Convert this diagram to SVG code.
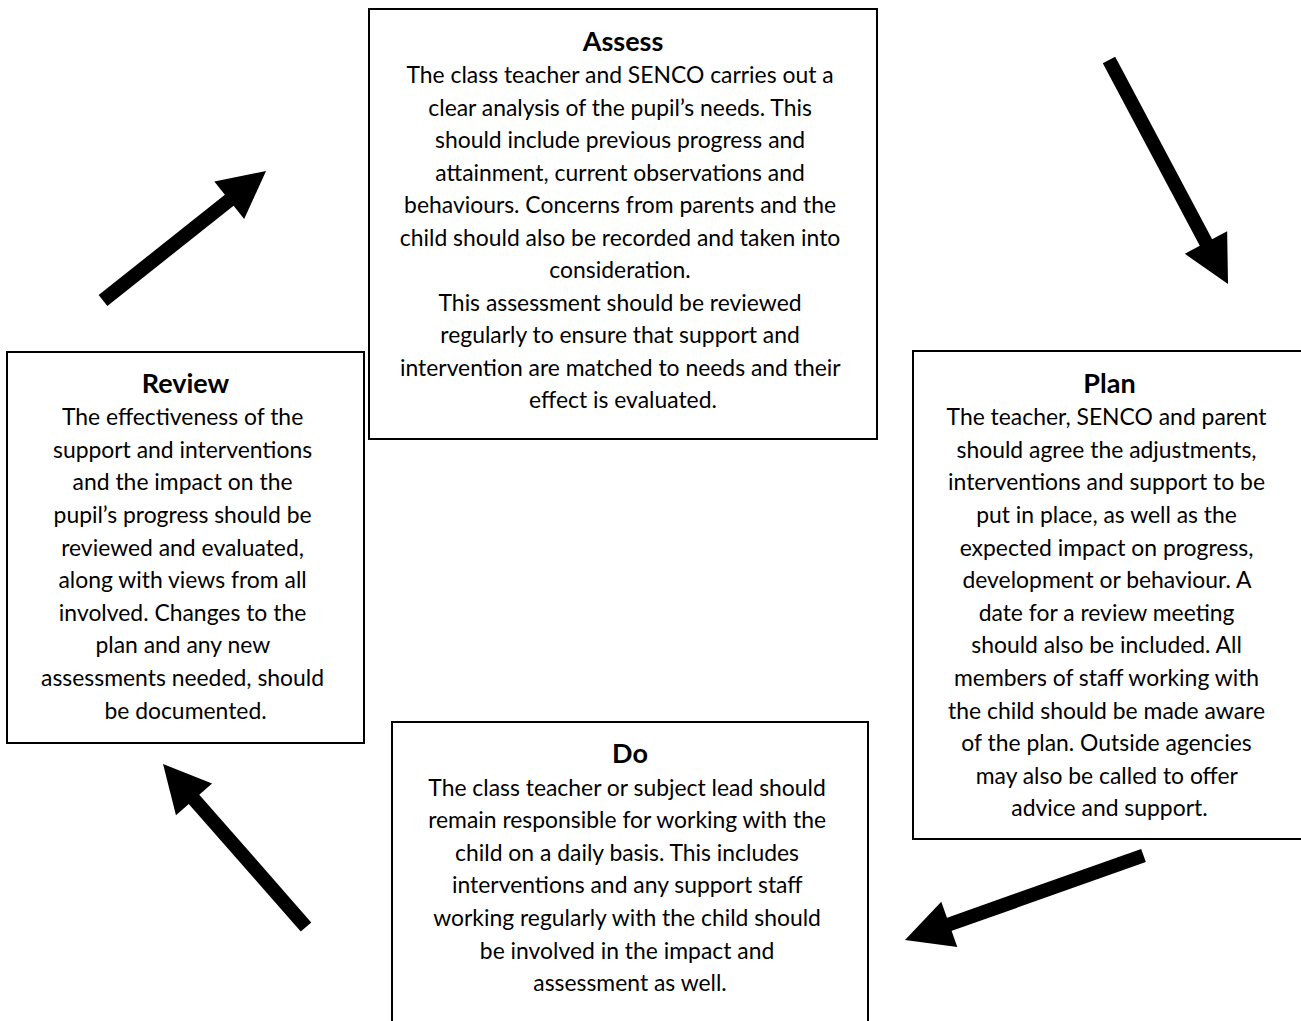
<svg xmlns="http://www.w3.org/2000/svg" width="1301" height="1021" viewBox="0 0 1301 1021">
<style>
.box{fill:#fff;stroke:#000;stroke-width:2}
.t{font-family:Lato,"Liberation Sans",sans-serif;font-size:22.9px;fill:#000;text-anchor:middle}
.h{font-weight:bold;font-size:27px}
.arr{stroke:#000;stroke-width:14;fill:none}
</style>
<defs>
<marker id="head" markerUnits="userSpaceOnUse" markerWidth="60" markerHeight="60" refX="2" refY="0" orient="auto" overflow="visible">
<path d="M0,-24 L47,0 L0,24 Z" fill="#000"/>
</marker>
</defs>
<rect width="1301" height="1021" fill="#fff"/>
<g id="connectors">
<line class="arr" x1="1109" y1="60" x2="1206.9" y2="244.3" marker-end="url(#head)"/>
<line class="arr" x1="1143.5" y1="855.5" x2="947.4" y2="925" marker-end="url(#head)"/>
<line class="arr" x1="306" y1="927" x2="192.7" y2="797.8" marker-end="url(#head)"/>
<line class="arr" x1="103" y1="300.5" x2="230.8" y2="199" marker-end="url(#head)"/>
</g>
<g id="assess">
<rect class="box" x="369" y="9" width="508" height="430"/>
<text class="t h" x="623" y="50.8">Assess</text>
<text class="t" x="623">
<tspan x="623" y="83.3">The class teacher and SENCO carries out a</tspan>
<tspan x="623" y="115.8">clear analysis of the pupil’s needs. This</tspan>
<tspan x="623" y="148.3">should include previous progress and</tspan>
<tspan x="623" y="180.8">attainment, current observations and</tspan>
<tspan x="623" y="213.3">behaviours. Concerns from parents and the</tspan>
<tspan x="623" y="245.8">child should also be recorded and taken into</tspan>
<tspan x="623" y="278.3">consideration.</tspan>
<tspan x="623" y="310.8">This assessment should be reviewed</tspan>
<tspan x="623" y="343.3">regularly to ensure that support and</tspan>
<tspan x="623" y="375.8">intervention are matched to needs and their</tspan>
<tspan x="623" y="408.3">effect is evaluated.</tspan>
</text>
</g>
<g id="review">
<rect class="box" x="7" y="352" width="357" height="391"/>
<text class="t h" x="185.5" y="392.5">Review</text>
<text class="t" x="185.5">
<tspan x="185.5" y="425.1">The effectiveness of the</tspan>
<tspan x="185.5" y="457.7">support and interventions</tspan>
<tspan x="185.5" y="490.3">and the impact on the</tspan>
<tspan x="185.5" y="522.9">pupil’s progress should be</tspan>
<tspan x="185.5" y="555.5">reviewed and evaluated,</tspan>
<tspan x="185.5" y="588.1">along with views from all</tspan>
<tspan x="185.5" y="620.7">involved. Changes to the</tspan>
<tspan x="185.5" y="653.3">plan and any new</tspan>
<tspan x="185.5" y="685.9">assessments needed, should</tspan>
<tspan x="185.5" y="718.5">be documented.</tspan>
</text>
</g>
<g id="plan">
<rect class="box" x="913" y="351" width="393" height="488"/>
<text class="t h" x="1109.5" y="392.5">Plan</text>
<text class="t" x="1109.5">
<tspan x="1109.5" y="425.1">The teacher, SENCO and parent</tspan>
<tspan x="1109.5" y="457.7">should agree the adjustments,</tspan>
<tspan x="1109.5" y="490.3">interventions and support to be</tspan>
<tspan x="1109.5" y="522.9">put in place, as well as the</tspan>
<tspan x="1109.5" y="555.5">expected impact on progress,</tspan>
<tspan x="1109.5" y="588.1">development or behaviour. A</tspan>
<tspan x="1109.5" y="620.7">date for a review meeting</tspan>
<tspan x="1109.5" y="653.3">should also be included. All</tspan>
<tspan x="1109.5" y="685.9">members of staff working with</tspan>
<tspan x="1109.5" y="718.5">the child should be made aware</tspan>
<tspan x="1109.5" y="751.1">of the plan. Outside agencies</tspan>
<tspan x="1109.5" y="783.7">may also be called to offer</tspan>
<tspan x="1109.5" y="816.3">advice and support.</tspan>
</text>
</g>
<g id="do">
<rect class="box" x="392" y="722" width="476" height="310"/>
<text class="t h" x="630" y="763">Do</text>
<text class="t" x="630">
<tspan x="630" y="795.6">The class teacher or subject lead should</tspan>
<tspan x="630" y="828.2">remain responsible for working with the</tspan>
<tspan x="630" y="860.8">child on a daily basis. This includes</tspan>
<tspan x="630" y="893.4">interventions and any support staff</tspan>
<tspan x="630" y="926">working regularly with the child should</tspan>
<tspan x="630" y="958.6">be involved in the impact and</tspan>
<tspan x="630" y="991.2">assessment as well.</tspan>
</text>
</g>
</svg>
